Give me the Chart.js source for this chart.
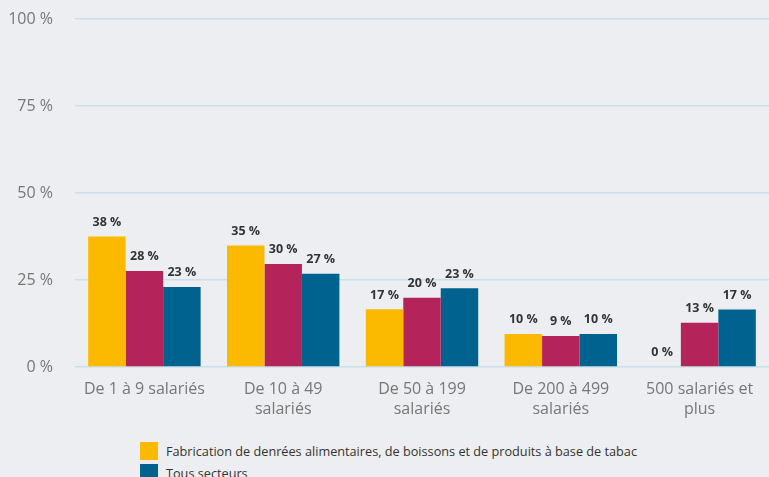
<!DOCTYPE html>
<html>
<head>
<meta charset="utf-8">
<script src="https://cdn.jsdelivr.net/npm/chart.js@4"></script>
<style>
  html, body { margin: 0; padding: 0; background: #edeef1; overflow: hidden; }
  body { width: 769px; height: 477px; position: relative; font-family: "Open Sans", sans-serif; }
  #wrap { position: absolute; left: 0; top: 0; width: 769px; height: 427px; }
  #legend { position: absolute; left: 140px; top: 440px; font-size: 12.7px; color: #333; }
  .item { display: flex; align-items: center; height: 22px; }
  .box { width: 18px; height: 18px; margin-right: 8px; }
</style>
</head>
<body>
<div id="wrap"><canvas id="chart"></canvas></div>
<div id="legend"></div>
<script>
const categories = [
  ['De 1 à 9 salariés'],
  ['De 10 à 49', 'salariés'],
  ['De 50 à 199', 'salariés'],
  ['De 200 à 499', 'salariés'],
  ['500 salariés et', 'plus']
];
const fabrication = [37.5, 34.9, 16.6, 9.5, 0];
const industrie = [27.6, 29.6, 19.9, 8.9, 12.7];
const tousSecteurs = [23.0, 26.8, 22.6, 9.5, 16.5];
const yTicks = [0, 25, 50, 75, 100];

const series = [
  { label: 'Fabrication de denrées alimentaires, de boissons et de produits à base de tabac', data: fabrication, color: '#fbb900', legend: true },
  { label: 'Industrie', data: industrie, color: '#b5235b', legend: false },
  { label: 'Tous secteurs', data: tousSecteurs, color: '#00628f', legend: true }
];

const valueLabels = {
  id: 'valueLabels',
  afterDatasetsDraw(chart) {
    const ctx = chart.ctx;
    ctx.save();
    ctx.font = 'bold 12.5px "Open Sans", sans-serif';
    ctx.fillStyle = '#333';
    ctx.textAlign = 'center';
    ctx.textBaseline = 'bottom';
    chart.data.datasets.forEach((ds, i) => {
      chart.getDatasetMeta(i).data.forEach((bar, j) => {
        ctx.fillText(Math.round(ds.data[j]) + ' %', bar.x, bar.y - 8);
      });
    });
    ctx.restore();
  }
};

new Chart(document.getElementById('chart'), {
  type: 'bar',
  data: {
    labels: categories,
    datasets: series.map(s => ({
      label: s.label,
      data: s.data,
      backgroundColor: s.color,
      borderWidth: 0,
      categoryPercentage: 0.81,
      barPercentage: 1
    }))
  },
  options: {
    responsive: true,
    maintainAspectRatio: false,
    animation: false,
    layout: { padding: { left: 0, top: 19, right: 0, bottom: 4 } },
    plugins: {
      legend: { display: false },
      tooltip: { enabled: false }
    },
    scales: {
      x: {
        grid: { display: false },
        border: { display: false },
        ticks: {
          color: '#777',
          padding: 4,
          maxRotation: 0,
          font: { family: '"Open Sans", sans-serif', size: 16, lineHeight: 1.25 }
        }
      },
      y: {
        min: 0,
        max: 100,
        afterBuildTicks(axis) { axis.ticks = yTicks.map(v => ({ value: v })); },
        afterFit(axis) { axis.width = 75; axis.paddingTop = 0; },
        grid: { color: '#c8e0ea', lineWidth: 1.5, drawTicks: false },
        border: { display: false },
        ticks: {
          color: '#777',
          padding: 22,
          callback: v => v + ' %',
          font: { family: '"Open Sans", sans-serif', size: 16 }
        }
      }
    }
  },
  plugins: [valueLabels]
});

const legendEl = document.getElementById('legend');
series.filter(s => s.legend).forEach(s => {
  const item = document.createElement('div');
  item.className = 'item';
  item.innerHTML = '<span class="box" style="background:' + s.color + '"></span><span></span>';
  item.lastChild.textContent = s.label;
  legendEl.appendChild(item);
});
</script>
</body>
</html>
